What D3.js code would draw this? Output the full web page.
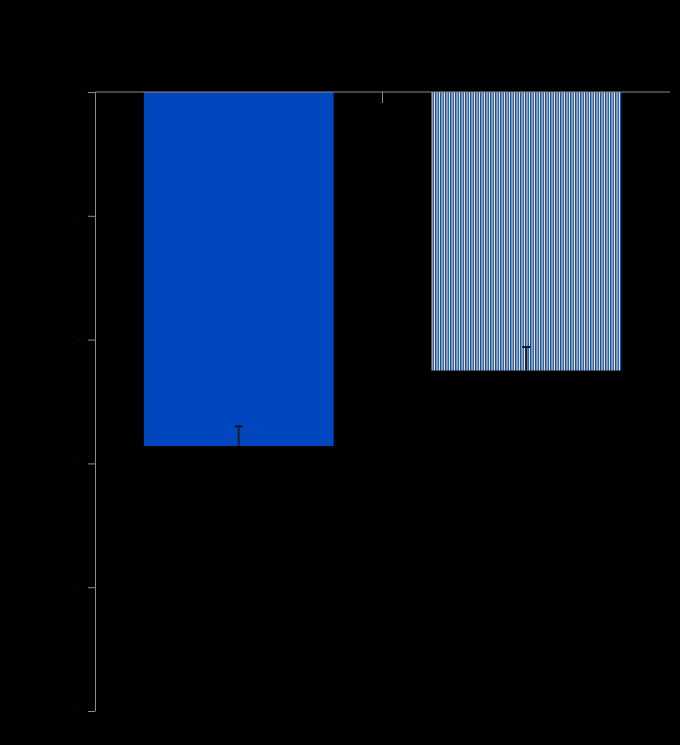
<!DOCTYPE html>
<html>
<head>
<meta charset="utf-8">
<script src="https://cdn.jsdelivr.net/npm/d3@7"></script>
<style>
	html, body { margin:0; padding:0; background:#000; }
	svg { display:block; }
	.axis path, .axis line { stroke:#8c8c8c; }
	.axis text { fill:#060606; font-family:"DejaVu Sans", sans-serif; font-size:11px; }
</style>
</head>
<body>
<div id="chart"></div>
<script>
// values (bars hang down from zero)
const categories = ['A', 'B'];
const values = [-28.6, -22.5];
const errors = [1.6, 1.9];
const yTicks = [0, -10, -20, -30, -40, -50];

const width = 680, height = 745;
const margin = {top:92, right:10, bottom:34, left:95};

const svg = d3.select('#chart').append('svg')
	.attr('width', width)
	.attr('height', height)
	.style('background', '#000');

const x = d3.scaleBand()
	.domain(categories)
	.range([margin.left, width - margin.right])
	.paddingInner(0.34)
	.paddingOuter(0.17);

const y = d3.scaleLinear()
	.domain([0, -50])
	.range([margin.top, height - margin.bottom]);

// striped fill for the second bar
const defs = svg.append('defs');
const pat = defs.append('pattern')
	.attr('id', 'stripes')
	.attr('patternUnits', 'userSpaceOnUse')
	.attr('width', 2.5)
	.attr('height', 3);
pat.append('rect').attr('width', 2.5).attr('height', 3).attr('fill', '#eef4ff');
pat.append('rect').attr('width', 1.5).attr('height', 3).attr('fill', '#1b4c8c');

const fills = ['#0046bf', 'url(#stripes)'];

svg.selectAll('.bar')
	.data(values)
	.enter().append('rect')
	.attr('class', 'bar')
	.attr('x', (d,i) => x(categories[i]))
	.attr('y', y(0))
	.attr('width', x.bandwidth())
	.attr('height', d => y(d) - y(0))
	.attr('fill', (d,i) => fills[i]);

// error bars (only the inner half shows)
const err = svg.selectAll('.err')
	.data(values)
	.enter().append('g')
	.attr('class', 'err')
	.attr('transform', (d,i) => `translate(${x(categories[i]) + x.bandwidth()/2},0)`);

err.append('line')
	.attr('y1', d => y(d))
	.attr('y2', (d,i) => y(d + errors[i]))
	.attr('stroke', '#1a1f33')
	.attr('stroke-width', 2);

err.append('line')
	.attr('x1', -4).attr('x2', 4)
	.attr('y1', (d,i) => y(d + errors[i]))
	.attr('y2', (d,i) => y(d + errors[i]))
	.attr('stroke', '#111522')
	.attr('stroke-width', 2);

// y axis
svg.append('g')
	.attr('class', 'axis y')
	.attr('transform', `translate(${margin.left},0)`)
	.call(d3.axisLeft(y).tickValues(yTicks).tickSize(7).tickSizeOuter(0));

// x axis along zero, with a tick between the two groups
const xLine = svg.append('g')
	.attr('class', 'axis x')
	.attr('transform', `translate(0,${y(0)})`);

xLine.append('line')
	.attr('x1', margin.left)
	.attr('x2', width - margin.right)
	.attr('stroke', '#8c8c8c');

const mid = (x(categories[0]) + x.bandwidth()/2 + x(categories[1]) + x.bandwidth()/2) / 2;
xLine.append('line')
	.attr('x1', mid).attr('x2', mid)
	.attr('y1', 0).attr('y2', 11)
	.attr('stroke', '#8c8c8c');
</script>
</body>
</html>
